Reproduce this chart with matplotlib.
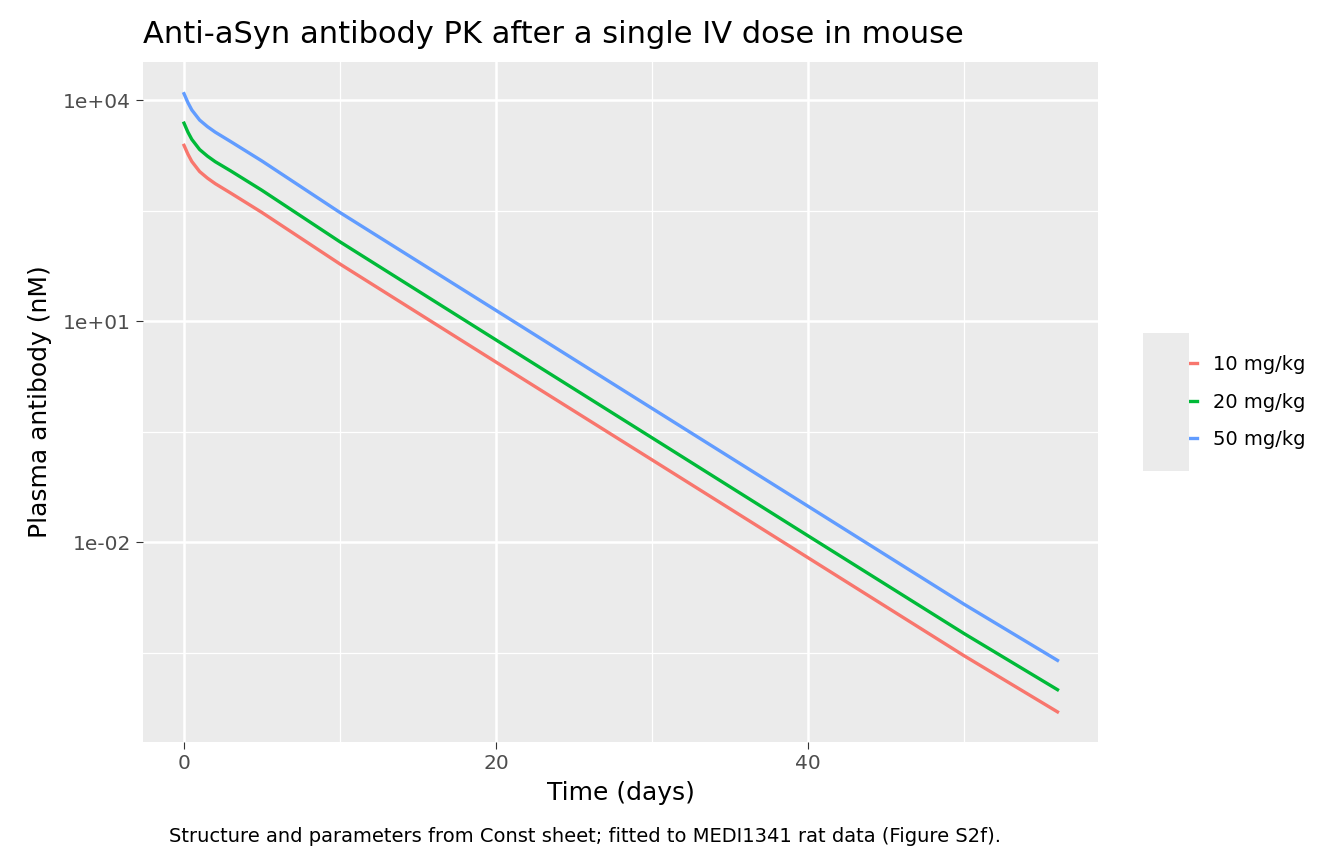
import matplotlib
matplotlib.use("Agg")
import matplotlib.pyplot as plt
from matplotlib.patches import Rectangle

# Time points (days) and plasma antibody concentration (nM)
time_days = [0, 0.25, 0.5, 1, 1.5, 2, 3, 5, 10, 20, 30, 40, 50, 56]
conc_10 = [2.45e3, 1.86e3, 1.48e3, 1.08e3, 8.8e2, 7.4e2, 5.5e2, 3.0e2, 60, 2.8, 0.132, 6.2e-3, 2.9e-4, 5.0e-5]
conc_20 = [4.9e3, 3.7e3, 2.95e3, 2.15e3, 1.75e3, 1.47e3, 1.1e3, 6.0e2, 1.2e2, 5.6, 0.263, 0.0123, 5.8e-4, 1.0e-4]
conc_50 = [1.23e4, 9.3e3, 7.4e3, 5.4e3, 4.4e3, 3.7e3, 2.75e3, 1.5e3, 3.0e2, 14.1, 0.66, 0.031, 1.45e-3, 2.5e-4]
doses = ["10 mg/kg", "20 mg/kg", "50 mg/kg"]
colors = ["#F8766D", "#00BA38", "#619CFF"]

fig = plt.figure(figsize=(13.44, 8.64), dpi=100)
ax = fig.add_axes([0.1064, 0.1412, 0.7106, 0.787])
ax.set_facecolor("#EBEBEB")

for conc, lab, col in zip([conc_10, conc_20, conc_50], doses, colors):
    ax.plot(time_days, conc, color=col, lw=2.4, label=lab)

ax.set_yscale("log")
ax.set_xlim(-2.63, 58.6)
ax.set_ylim(10**-4.71, 10**4.52)

ax.set_xticks([0, 20, 40])
ax.set_xticks([10, 30, 50], minor=True)
ax.set_yticks([1e-2, 1e1, 1e4])
ax.set_yticklabels(["1e-02", "1e+01", "1e+04"])
ax.set_yticks([10**-3.5, 10**-0.5, 10**2.5], minor=True)
ax.yaxis.set_minor_formatter(matplotlib.ticker.NullFormatter())

ax.grid(which="major", color="white", lw=1.8)
ax.grid(which="minor", color="white", lw=0.9)
ax.set_axisbelow(True)
for s in ax.spines.values():
    s.set_visible(False)
ax.tick_params(which="major", length=5, color="#333333", labelsize=14.5, labelcolor="#4D4D4D")
ax.tick_params(which="minor", length=0)

ax.set_xlabel("Time (days)", fontsize=18, labelpad=6)
ax.set_ylabel("Plasma antibody (nM)", fontsize=18, labelpad=8)
ax.set_title("Anti-aSyn antibody PK after a single IV dose in mouse", fontsize=22, pad=14, loc="left")

# grey key background like ggplot
fig.patches.append(Rectangle((1143 / 1344, 1 - 471 / 864), 46 / 1344, 138 / 864,
                             transform=fig.transFigure, facecolor="#EBEBEB", edgecolor="none"))
ax.legend(loc="center left", bbox_to_anchor=(1.045, 0.5), frameon=False,
          fontsize=14, handlelength=2.0, labelspacing=0.95, handletextpad=0.8)
fig.text(0.435, 0.025, "Structure and parameters from Const sheet; fitted to MEDI1341 rat data (Figure S2f).",
         ha="center", fontsize=14)

fig.savefig("out.png", dpi=100)
